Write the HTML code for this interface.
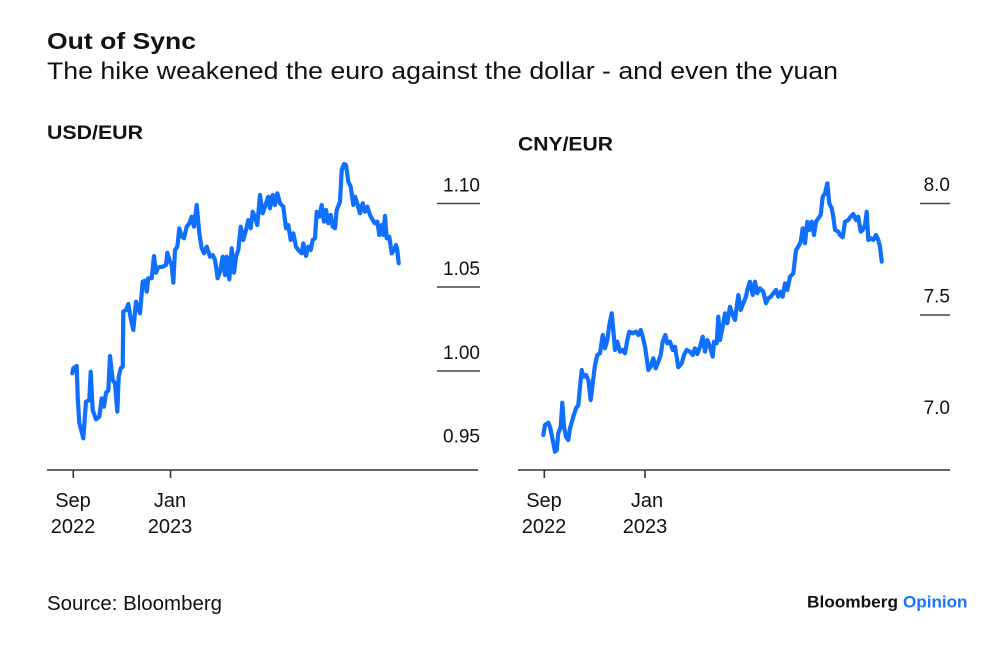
<!DOCTYPE html>
<html><head><meta charset="utf-8"><style>
html,body{margin:0;padding:0;background:#fff;}
svg{display:block;}
text{font-family:"Liberation Sans",Arial,sans-serif;fill:#111;}
</style></head><body>
<svg width="1001" height="646" viewBox="0 0 1001 646" xmlns="http://www.w3.org/2000/svg">
<rect width="1001" height="646" fill="#fff"/>
<text x="47" y="49" font-size="23" font-weight="bold" textLength="149" lengthAdjust="spacingAndGlyphs">Out of Sync</text>
<text x="47" y="79" font-size="24" textLength="791" lengthAdjust="spacingAndGlyphs">The hike weakened the euro against the dollar - and even the yuan</text>

<text x="47" y="139" font-size="19" font-weight="bold" textLength="96" lengthAdjust="spacingAndGlyphs">USD/EUR</text>
<text x="518" y="150.5" font-size="19" font-weight="bold" textLength="95" lengthAdjust="spacingAndGlyphs">CNY/EUR</text>

<g font-size="19" text-anchor="end">
<text x="480" y="191.5">1.10</text>
<text x="480" y="275">1.05</text>
<text x="480" y="359">1.00</text>
<text x="480" y="442.5">0.95</text>
<text x="950" y="191">8.0</text>
<text x="950" y="302.5">7.5</text>
<text x="950" y="414">7.0</text>
</g>
<g stroke="#444" stroke-width="1.6">
<line x1="437" y1="203.5" x2="480" y2="203.5"/>
<line x1="437" y1="287" x2="480" y2="287"/>
<line x1="437" y1="371" x2="480" y2="371"/>
<line x1="920" y1="203.5" x2="950" y2="203.5"/>
<line x1="920" y1="315" x2="950" y2="315"/>
</g>
<g stroke="#333" stroke-width="1.6">
<line x1="47" y1="470" x2="478" y2="470"/>
<line x1="73.3" y1="470" x2="73.3" y2="478"/>
<line x1="170.5" y1="470" x2="170.5" y2="478"/>
<line x1="518" y1="470" x2="950" y2="470"/>
<line x1="544.3" y1="470" x2="544.3" y2="478"/>
<line x1="645" y1="470" x2="645" y2="478"/>
</g>
<g font-size="20" text-anchor="middle">
<text x="73" y="507">Sep</text>
<text x="73" y="533">2022</text>
<text x="170" y="507">Jan</text>
<text x="170" y="533">2023</text>
<text x="544" y="507">Sep</text>
<text x="544" y="533">2022</text>
<text x="647" y="507">Jan</text>
<text x="645" y="533">2023</text>
</g>

<polyline fill="none" stroke="#0f6fff" stroke-width="4.2" stroke-linejoin="round" stroke-linecap="round" points="72.3,373.3 73.3,368.3 76.7,366 77.7,396.7 79.3,423 83.3,438.3 86,401.7 89.3,400 90.7,371.7 92.7,410 96,419.3 99.3,416.7 101.7,398.3 104,406.7 106,392.7 108.3,390.7 110,356 112.7,380 115,383.3 117.3,411.7 118.7,376.7 120.7,368.3 122.7,366.7 123.3,311.7 126,310 128.3,304 130.7,318.3 133.3,330 136,301.7 140,313.3 142.7,281.7 145,280.7 146.7,291.7 148.3,278.3 151.7,278.3 154,256 156,272.7 158.3,267.3 162.7,266.7 166,265 167.3,252.7 170,261.7 171.7,265 173.3,282.7 175,250 177.3,246.7 179.3,228.3 181.7,236.7 184,238.3 186.7,226.7 189.3,223.3 191.7,216.7 194,226.7 196.7,205 199.3,233.3 201.7,248.3 204,253.3 206.7,246.7 210,256.7 212.7,255 215,260 217.7,278.3 220,271.7 222.7,256.7 225,275 226.7,256.7 229.3,279.3 231.7,248.3 234,272.7 236,256.7 238.3,250 240.7,226.7 243.3,240 246,230 248.3,220 250.7,228.3 252.7,211.7 255,216.7 257.3,225 260,195 262.7,213.3 265,206.7 268.3,196.7 270,208.3 272.7,195 275,205 277.3,193.3 280,203.3 283.3,206.7 286,228.3 288.3,225 290.7,240 293.3,233.3 296,246.7 298.3,250 301.7,253.3 303.3,243.3 306,256 308.3,246.7 310.7,250 312.7,240 315,238.3 316.7,211.7 319.3,216.7 321.7,205 324,221.7 326,210 328.3,223.3 330.7,215 332.7,226.7 335,228.3 336.7,210 340,201.7 341.7,170 344,164 346,165 348.3,181.7 350.7,186.7 353.3,205 355,196.7 357.3,203.3 360,213.3 362.7,203.3 365,211.7 367.3,206.7 370,215 372.7,220 375,223.3 377.3,221.7 379.3,235 381.7,225 383.3,235 385,216 386.7,238.3 389.3,236.7 391.7,253.3 394,250 396,245 397.3,250 398.7,263.3"/>

<polyline fill="none" stroke="#0f6fff" stroke-width="4.2" stroke-linejoin="round" stroke-linecap="round" points="543.3,435 545,425 548.3,422.7 550,426.7 552.7,440 555,451.7 556.7,450 558.3,433.3 560.7,426.7 562.3,402.7 564,426.7 566,436.7 568.3,440 570,428.3 573.3,416.7 576,408.3 578.3,405 580,386.7 581.7,370 583.3,376.7 586,375 588.3,380 590.7,400 592.7,383.3 595,365 597.3,355 600,353.3 602.7,335 605,348.3 607.3,340 609.3,325 611.7,313.3 613.3,330 615,350 617.3,341.7 620,351.7 622.7,350 625,353.3 627.3,340 629.3,331.7 632.7,333.3 636,331.7 638.3,335 640.7,330 642.7,336.7 645,346.7 646.7,358.3 648.3,370 650.7,366.7 653.3,358.3 655.7,368.3 658.3,361.7 660.7,355 662.7,341.7 665.3,335 667.3,343.3 670,341.7 672.7,350 675,346.7 678.3,367.3 681.7,363.3 684,355 686.7,350 690,351.7 692.7,355 695,348.3 697.3,354 700,346.7 702.7,336.7 705,351.7 707.3,340 710,346.7 712.7,356.7 714,341.7 716.7,343.3 718.3,316.7 720,340 722.7,326.7 725,313.3 727.3,323.3 730,306.7 732.7,315 735,320 736.7,306.7 738.3,295 740.7,310 743.3,303.3 746,296.7 747.3,290 750,281.7 752.7,295 755,281.7 757.3,293.3 760,288.3 763.3,291.7 766,303.3 768.3,298.3 770.7,296.7 773.3,293.3 776,290 778.3,296.7 780.7,291.7 782.7,296.7 785,283.3 787.3,290 790,276.7 793.3,273.3 796,250 798.3,246.7 800.7,241.7 802.7,228.3 805,243.3 807.3,221.7 809.3,230 811.7,221.7 814,235 816,221.7 818.3,218.3 820.7,215 822.7,196.7 825,193.3 827.3,183.3 829.3,203.3 831.7,208.3 833.3,216.7 835,230 838.3,231.7 840,235 842.7,237.3 845,221.7 848.3,220 850.7,216.7 853.3,214 856,220 858.3,216.7 860.7,231.7 862.7,230 865,225 866.7,211.7 868.3,240 870.7,238.3 873.3,240 876,235 878.3,240 880,246.7 881.7,261.7"/>

<text x="47" y="610" font-size="20" textLength="175" lengthAdjust="spacingAndGlyphs">Source: Bloomberg</text>
<text x="807" y="607.5" font-size="17" font-weight="bold" textLength="91" lengthAdjust="spacingAndGlyphs">Bloomberg</text>
<text x="903" y="607.5" font-size="17" style="fill:#1a73ff" font-weight="bold" textLength="64.5" lengthAdjust="spacingAndGlyphs">Opinion</text>
</svg>
</body></html>
